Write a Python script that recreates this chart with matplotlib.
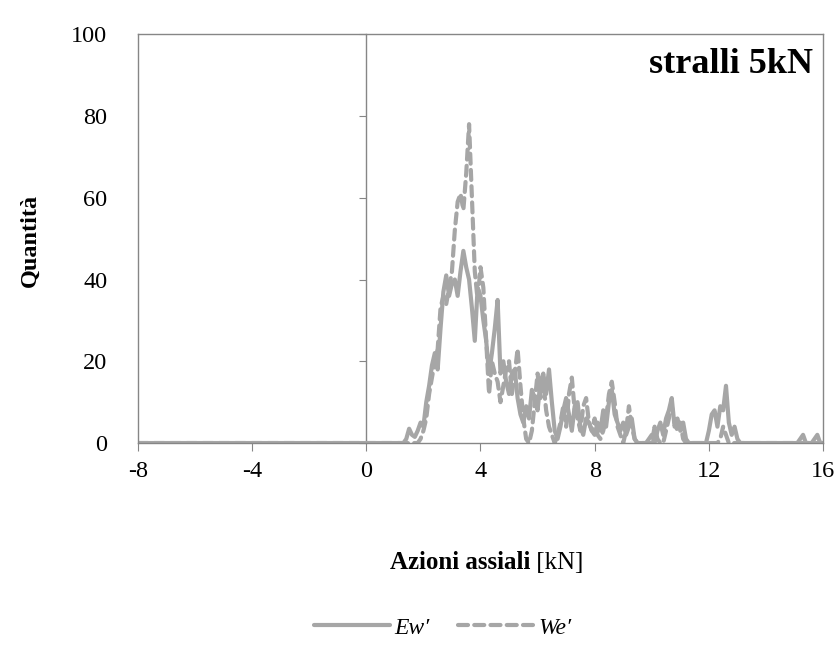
import numpy as np
import matplotlib
matplotlib.use("Agg")
import matplotlib.pyplot as plt

plt.rcParams['font.family'] = ['Liberation Serif', 'DejaVu Serif']
plt.rcParams['axes.unicode_minus'] = False

# asse x: da -8 a 1.0 tutto zero, poi passo 0.1 kN fino a 16
x_vals = [-8.0] + list(np.round(np.arange(1.0, 16.05, 0.1), 1))

# Ew' (linea continua), valori da 1.0 a 16.0
ew = [0,
      0, 0, 0, 0, 1, 3.5, 2, 1.5, 3, 5,
      4, 10, 14, 19, 22, 18, 28, 37, 41, 36,
      39, 40, 36, 42, 47, 43, 40, 33, 25, 38,
      36, 30, 25, 17, 22, 28, 35, 17, 20, 15,
      12, 17, 18, 11, 7, 5, 9, 6, 13, 11,
      8, 15, 17, 12, 18, 10, 3, 1, 4, 8,
      11, 7, 3, 9, 10, 4, 2, 6, 5, 3,
      2, 5, 3, 8, 4, 10, 13, 7, 5, 3,
      5, 2, 4, 6, 1, 0, 0, 0, 0, 1,
      2, 0, 3, 5, 2, 6, 8, 11, 4, 6,
      3, 5, 1, 0, 0, 0, 0, 0, 0, 0,
      3, 7, 8, 4, 9, 8, 14, 5, 2, 4,
      1, 0, 0, 0, 0, 0, 0, 0, 0, 0,
      0, 0, 0, 0, 0, 0, 0, 0, 0, 0,
      0, 0, 1, 2, 0, 0, 0, 1, 2, 0,
      0]

# We' (linea tratteggiata)
we = [0,
      0, 0, 0, 0, 0, 0, 0, 0, 0, 1,
      3, 6, 12, 16, 20, 23, 33, 36, 34, 38,
      42, 52, 59, 61, 57, 66, 78, 60, 42, 35,
      43, 38, 25, 12, 20, 17, 15, 10, 14, 18,
      20, 12, 17, 23, 14, 6, 1, 0, 3, 10,
      17, 11, 15, 8, 4, 2, 0, 2, 5, 9,
      4, 12, 16, 8, 6, 3, 9, 11, 5, 3,
      6, 2, 1, 3, 6, 12, 15, 10, 4, 2,
      0, 3, 9, 4, 1, 0, 0, 0, 0, 0,
      0, 4, 1, 0, 0, 3, 6, 9, 5, 3,
      5, 1, 0, 0, 0, 0, 0, 0, 0, 0,
      0, 0, 0, 0, 1, 4, 2, 0, 0, 0,
      0, 0, 0, 0, 0, 0, 0, 0, 0, 0,
      0, 0, 0, 0, 0, 0, 0, 0, 0, 0,
      0, 0, 0, 0, 0, 0, 0, 0, 0, 0,
      0]

x_ticks = [-8, -4, 0, 4, 8, 12, 16]
y_ticks = [0, 20, 40, 60, 80, 100]

grey = "#A6A6A6"
frame = "#868686"

fig = plt.figure(figsize=(8.36, 6.46), dpi=100)
ax = fig.add_axes([0.165, 0.3142, 0.8195, 0.6328])

ax.plot(x_vals, ew, color=grey, lw=3.0, solid_capstyle="round",
        solid_joinstyle="round", label="Ew′")
ax.plot(x_vals, we, color=grey, lw=3.0, linestyle=(0, (2.4, 1.5)),
        dash_capstyle="round", dash_joinstyle="round", label="We′")

ax.set_xlim(-8, 16)
ax.set_ylim(0, 100)
ax.set_xticks(x_ticks)
ax.set_yticks(y_ticks)

for s in ax.spines.values():
    s.set_color(frame)
    s.set_linewidth(1.0)

ax.tick_params(axis="x", direction="out", length=6, color=frame,
               labelsize=17.5, pad=7)
ax.tick_params(axis="y", length=0, labelsize=17.5, pad=22)

# asse y passante per x = 0 (solo tacche)
pos0 = (0 - (-8)) / (16 - (-8))
sec = ax.secondary_yaxis(pos0)
sec.set_yticks(y_ticks)
sec.tick_params(axis="y", direction="out", length=5, color=frame,
                labelleft=False, labelright=False)
sec.spines["left"].set_color(frame)
sec.spines["left"].set_linewidth(1.0)

ax.text(0.985, 0.925, "stralli 5kN", transform=ax.transAxes, ha="right",
        va="center", fontsize=26, fontweight="bold")

fig.text(0.634, 0.1285, "Azioni assiali", ha="right", va="center",
         fontsize=18, fontweight="bold")
fig.text(0.634, 0.1285, " [kN]", ha="left", va="center", fontsize=18)
fig.text(0.036, 0.628, "Quantità", rotation=90, ha="center", va="center",
         fontsize=17.5, fontweight="bold")

fig.legend(loc="center", bbox_to_anchor=(0.53, 0.028), ncol=2,
           frameon=False, prop={"size": 17, "style": "italic"},
           handlelength=3.2, columnspacing=1.2, handletextpad=0.2)

fig.savefig("out.png", dpi=100)
